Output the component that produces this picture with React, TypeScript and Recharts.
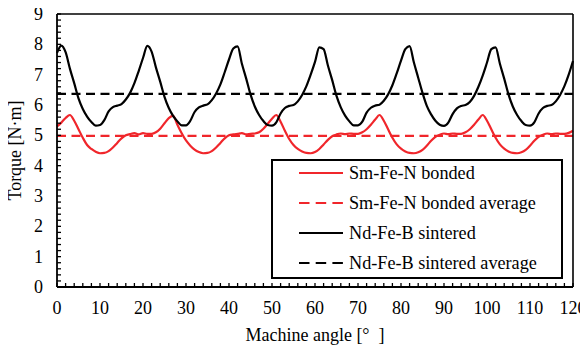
import React from 'react';
import { LineChart, Line, XAxis, YAxis, Legend } from 'recharts';

// ---------- data ----------
const angles = [
  0, 1, 2, 3, 4, 5, 6, 7, 8, 9, 10, 11, 12, 13, 14, 15, 16, 17, 18, 19,
  20, 21, 22, 23, 24, 25, 26, 27, 28, 29, 30, 31, 32, 33, 34, 35, 36, 37, 38, 39,
  40, 41, 42, 43, 44, 45, 46, 47, 48, 49, 50, 51, 52, 53, 54, 55, 56, 57, 58, 59,
  60, 61, 62, 63, 64, 65, 66, 67, 68, 69, 70, 71, 72, 73, 74, 75, 76, 77, 78, 79,
  80, 81, 82, 83, 84, 85, 86, 87, 88, 89, 90, 91, 92, 93, 94, 95, 96, 97, 98, 99,
  100, 101, 102, 103, 104, 105, 106, 107, 108, 109, 110, 111, 112, 113, 114, 115, 116, 117, 118, 119,
  120,
];

const smBonded = [
  5.29, 5.42, 5.57, 5.67, 5.48, 5.2, 4.92, 4.68, 4.55, 4.46, 4.41, 4.42, 4.48, 4.6, 4.75, 4.9, 5.0, 5.04, 5.07, 5.03,
  5.07, 5.05, 5.05, 5.1, 5.22, 5.4, 5.57, 5.64, 5.35, 5.07, 4.83, 4.66, 4.53, 4.45, 4.41, 4.42, 4.48, 4.6, 4.75, 4.9,
  5.0, 5.03, 5.05, 5.07, 5.03, 5.05, 5.06, 5.1, 5.22, 5.38, 5.55, 5.67, 5.45, 5.15, 4.88, 4.68, 4.55, 4.47, 4.42, 4.41,
  4.45, 4.55, 4.7, 4.85, 4.97, 5.03, 5.06, 5.04, 5.06, 5.05, 5.05, 5.1, 5.2, 5.35, 5.52, 5.67, 5.48, 5.2, 4.92, 4.7,
  4.56, 4.47, 4.42, 4.41, 4.44, 4.52, 4.66, 4.82, 4.95, 5.02, 5.06, 5.04, 5.06, 5.05, 5.05, 5.1, 5.2, 5.35, 5.52, 5.67,
  5.48, 5.2, 4.92, 4.7, 4.56, 4.47, 4.42, 4.41, 4.44, 4.52, 4.66, 4.82, 4.95, 5.02, 5.06, 5.04, 5.06, 5.05, 5.05, 5.08,
  5.15,
];

const ndSintered = [
  7.72, 7.96, 7.74, 7.2, 6.72, 6.22, 5.87, 5.62, 5.44, 5.32, 5.34, 5.5, 5.79, 5.93, 5.98, 6.03, 6.18, 6.4, 6.72, 7.12,
  7.55, 7.95, 7.76, 7.24, 6.77, 6.27, 5.9, 5.64, 5.46, 5.33, 5.33, 5.48, 5.77, 5.92, 5.98, 6.02, 6.16, 6.38, 6.68, 7.08,
  7.5, 7.86, 7.93, 7.36, 6.87, 6.35, 5.95, 5.67, 5.47, 5.34, 5.32, 5.43, 5.72, 5.9, 5.97, 6.0, 6.12, 6.33, 6.62, 7.0,
  7.42, 7.9, 7.84, 7.3, 6.82, 6.3, 5.92, 5.65, 5.46, 5.33, 5.33, 5.45, 5.75, 5.91, 5.98, 6.01, 6.14, 6.35, 6.65, 7.04,
  7.46, 7.84, 7.94, 7.4, 6.9, 6.4, 5.97, 5.69, 5.48, 5.35, 5.31, 5.42, 5.7, 5.89, 5.97, 6.0, 6.1, 6.3, 6.6, 6.97,
  7.4, 7.84, 7.9, 7.36, 6.87, 6.35, 5.95, 5.67, 5.47, 5.34, 5.32, 5.43, 5.72, 5.9, 5.97, 6.0, 6.12, 6.33, 6.62, 7.0,
  7.45,
];

const smAverage = 4.98;
const ndAverage = 6.37;

const xTickLabels = [0, 10, 20, 30, 40, 50, 60, 70, 80, 90, 100, 110, 120];
const yTickLabels = [0, 1, 2, 3, 4, 5, 6, 7, 8, 9];

const xTitle = 'Machine angle [°\u00a0\u00a0]';
const yTitle = 'Torque [N·m]';

// ---------- styling ----------
const FONT = 'Liberation Serif';
const RED = '#f0262b';
const BLACK = '#000000';

const series = [
  { key: 'sm', name: 'Sm-Fe-N bonded', color: RED, dash: undefined as string | undefined, legendDash: undefined as string | undefined },
  { key: 'smAvg', name: 'Sm-Fe-N bonded average', color: RED, dash: '9 5.5', legendDash: '10.5 6.2' },
  { key: 'nd', name: 'Nd-Fe-B sintered', color: BLACK, dash: undefined, legendDash: undefined },
  { key: 'ndAvg', name: 'Nd-Fe-B sintered average', color: BLACK, dash: '9 5.5', legendDash: '10.5 6.2' },
];

const data = angles.map((a, i) => ({
  angle: a,
  sm: smBonded[i],
  smAvg: smAverage,
  nd: ndSintered[i],
  ndAvg: ndAverage,
}));

const withMinor = (labels: number[]) => {
  const out: number[] = [];
  labels.forEach((v, i) => {
    if (i < labels.length - 1) {
      const step = (labels[i + 1] - v) / 5;
      for (let k = 0; k < 5; k++) out.push(v + k * step);
    } else out.push(v);
  });
  return out;
};
const xTicks = withMinor(xTickLabels);
const yTicks = withMinor(yTickLabels);

const isMajor = (labels: number[], v: number) => labels.some((t) => Math.abs(t - v) < 1e-6);

const XTick = (props: any) => {
  const { x, y, payload } = props;
  const v = payload.value;
  return (
    <g>
      <line x1={x} x2={x} y1={y} y2={y - 4} stroke="#000" strokeWidth={1.3} />
      {isMajor(xTickLabels, v) && (
        <text x={x} y={y + 27} textAnchor="middle" fontSize={18} style={{ fontFamily: FONT }} fill="#000">
          {Math.round(v)}
        </text>
      )}
    </g>
  );
};

const YTick = (props: any) => {
  const { x, y, payload } = props;
  const v = payload.value;
  return (
    <g>
      <line x1={x} x2={x + 4} y1={y} y2={y} stroke="#000" strokeWidth={1.3} />
      {isMajor(yTickLabels, v) && (
        <text x={x - 14} y={y + 6} textAnchor="end" fontSize={18} style={{ fontFamily: FONT }} fill="#000">
          {Math.round(v)}
        </text>
      )}
    </g>
  );
};

const renderLegend = (props: any) => {
  const payload: any[] = props.payload || [];
  return (
    <div
      style={{
        width: 292,
        height: 120,
        boxSizing: 'border-box',
        border: '2px solid #000',
        background: '#fff',
        position: 'relative',
        fontFamily: FONT,
      }}
    >
      {series.map((s, i) => {
        const entry = payload.find((p) => p.dataKey === s.key);
        const label = entry ? entry.value : s.name;
        return (
          <div key={s.key} style={{ position: 'absolute', left: 0, top: -3 + i * 30, height: 30, width: 288 }}>
            <svg width={44} height={30} style={{ position: 'absolute', left: 26, top: 0 }}>
              <line x1={0} x2={44} y1={15} y2={15} stroke={s.color} strokeWidth={2.2} strokeDasharray={s.legendDash} />
            </svg>
            <span
              style={{
                position: 'absolute',
                left: 76,
                top: 0,
                fontSize: 18.2,
                lineHeight: '30px',
                color: '#000',
                whiteSpace: 'nowrap',
                fontFamily: FONT,
              }}
            >
              {label}
            </span>
          </div>
        );
      })}
    </div>
  );
};

const renderYTitle = (props: any) => {
  const vb = props.viewBox || {};
  const cx = 15;
  const cy = vb.y + vb.height / 2;
  return (
    <text
      x={cx}
      y={cy}
      transform={`rotate(-90 ${cx} ${cy})`}
      textAnchor="middle"
      dominantBaseline="central"
      fontSize={18}
      style={{ fontFamily: FONT }}
      fill="#000"
    >
      {yTitle}
    </text>
  );
};

const renderXTitle = (props: any) => {
  const vb = props.viewBox || {};
  const cx = vb.x + vb.width / 2;
  const by = vb.y + 54;
  return (
    <text x={cx} y={by} textAnchor="middle" fontSize={18} style={{ fontFamily: FONT }} fill="#000">
      {xTitle}
    </text>
  );
};

export default function App() {
  return (
    <div style={{ width: 588, height: 351, margin: '-8px 0 0 -8px', fontFamily: FONT }}>
      <LineChart width={588} height={351} data={data} margin={{ top: 13, right: 14, bottom: 0, left: 0 }}>
        <XAxis
          dataKey="angle"
          type="number"
          domain={[0, 120]}
          ticks={xTicks}
          interval={0}
          tickSize={0}
          tickMargin={0}
          tickLine={false}
          tick={<XTick />}
          height={64}
          axisLine={{ stroke: '#000', strokeWidth: 1.8 }}
          label={renderXTitle}
          allowDecimals
        />
        <XAxis
          xAxisId="top"
          orientation="top"
          dataKey="angle"
          type="number"
          domain={[0, 120]}
          ticks={[0, 120]}
          height={1}
          tick={false}
          tickLine={false}
          axisLine={{ stroke: '#000', strokeWidth: 1.6 }}
        />
        <YAxis
          type="number"
          domain={[0, 9]}
          ticks={yTicks}
          interval={0}
          tickSize={0}
          tickMargin={0}
          tickLine={false}
          tick={<YTick />}
          width={57}
          axisLine={{ stroke: '#000', strokeWidth: 1.8 }}
          label={renderYTitle}
          allowDecimals
        />
        <YAxis
          yAxisId="right"
          orientation="right"
          type="number"
          domain={[0, 9]}
          ticks={[0, 9]}
          width={1}
          tick={false}
          tickLine={false}
          axisLine={{ stroke: '#000', strokeWidth: 1.6 }}
        />
        <Legend
          layout="horizontal"
          verticalAlign="middle"
          align="center"
          wrapperStyle={{ position: 'absolute', left: 271, top: 159, width: 292, height: 120 }}
          content={renderLegend}
        />
        {series.map((s) => (
          <Line
            key={s.key}
            dataKey={s.key}
            name={s.name}
            type={s.dash ? 'linear' : 'monotone'}
            stroke={s.color}
            strokeWidth={2.2}
            strokeDasharray={s.dash}
            dot={false}
            activeDot={false}
            isAnimationActive={false}
          />
        ))}
      </LineChart>
    </div>
  );
}
